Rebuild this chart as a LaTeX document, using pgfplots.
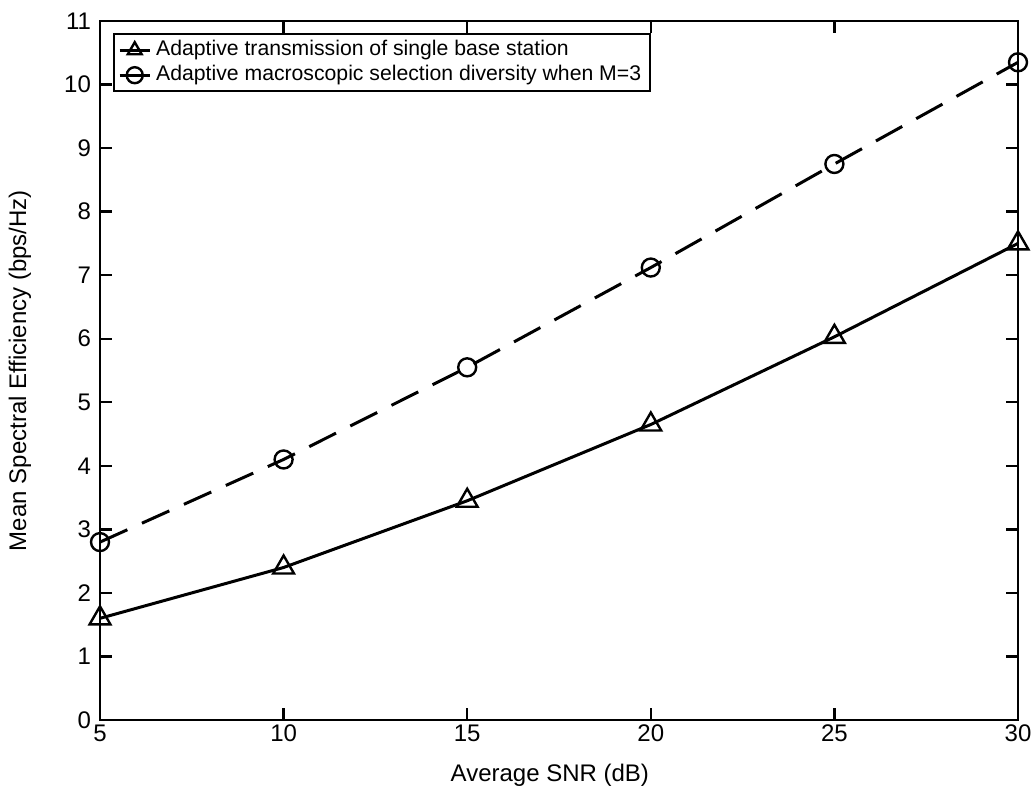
\documentclass[border=0pt]{standalone}
\usepackage{fontspec}
\setmainfont{Liberation Sans}
\usepackage{pgfplots}
\pgfplotsset{compat=1.18}
\begin{document}
\begin{tikzpicture}
\path[use as bounding box] (-50pt,-36.5pt) rectangle (465.5pt,360pt);
\begin{axis}[
  scale only axis,
  width=459pt, height=349.5pt,
  at={(0pt,0pt)}, anchor=south west,
  xmin=5, xmax=30, ymin=0, ymax=11,
  xtick={5,10,...,30}, ytick={0,1,...,11},
  tick align=inside, tick pos=both,
  major tick length=6pt,
  axis line style={line width=1.4pt},
  every tick/.style={line width=1.2pt, black},
  /pgf/number format/assume math mode=true,
  tick label style={font=\fontsize{12}{14}\selectfont},
  xticklabel style={yshift=1pt},
  yticklabel style={xshift=-1pt},
  xlabel={Average SNR (dB)},
  ylabel={Mean Spectral Efficiency (bps/Hz)},
  every axis x label/.style={at={(axis description cs:0.49,-0.0787)}, anchor=center, font=\fontsize{12}{14}\selectfont},
  every axis y label/.style={at={(axis description cs:-0.0871,0.5)}, anchor=center, rotate=90, font=\fontsize{12}{14}\selectfont},
  legend style={at={(axis description cs:0.0142,0.9828)}, anchor=north west,
    draw=black, line width=1.2pt, font=\fontsize{10.6}{12}\selectfont,
    inner xsep=2pt, inner ysep=1.75pt, row sep=0pt,
    nodes={inner xsep=2.5pt, inner ysep=1pt, text height=8pt, text depth=2.5pt}},
  legend cell align=left,
  legend image code/.code={\draw[#1, solid] (0pt,0pt) -- (15pt,0pt); \draw[#1, solid, only marks, mark size=4pt] plot coordinates {(7.5pt,0pt)};},
]
\addplot[black, line width=1.5pt, mark=triangle, mark size=6pt, mark options={solid, line width=1.2pt}]
  coordinates {(5,1.6) (10,2.4) (15,3.45) (20,4.65) (25,6.03) (30,7.5)};
\addlegendentry{Adaptive transmission of single base station}
\addplot[black, line width=1.5pt, dash pattern=on 15pt off 8pt, mark=o, mark size=4.5pt, mark options={solid, line width=1.2pt}]
  coordinates {(5,2.8) (10,4.1) (15,5.55) (20,7.12) (25,8.75) (30,10.35)};
\addlegendentry{Adaptive macroscopic selection diversity when M=3}
\end{axis}
\end{tikzpicture}
\end{document}
